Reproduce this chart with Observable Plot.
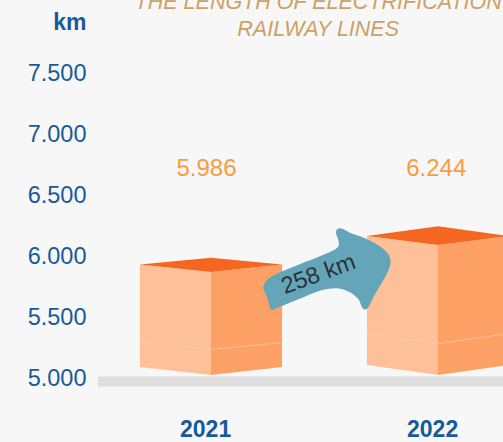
<!DOCTYPE html>
<html><head><meta charset="utf-8">
<style>html,body{margin:0;padding:0;background:#f7f7f7;overflow:hidden}svg{display:block}</style>
<script src="https://cdn.jsdelivr.net/npm/d3@7"></script>
<script src="https://cdn.jsdelivr.net/npm/@observablehq/plot@0.6"></script>
</head><body><div id="chart"></div>
<script>
const years = [2021, 2022];
const values = [5986, 6244];
const yearLabels = ["2021", "2022"];
const valueLabels = ["5.986", "6.244"];
const ticks = [5000, 5500, 6000, 6500, 7000, 7500];
const halfWidth = [0.313, 0.313];
const topSide = [5930, 6164];
const topFront = [5869, 6090];
const bottomSide = [5090, 5107];
const bottomFront = [5025, 5025];
const seamSide = [5295, 5369];
const seamFront = [5238, 5287];
const arrowYear = [2021.264,2021.247,2021.229,2021.242,2021.273,2021.392,2021.480,2021.559,2021.559,2021.548,2021.555,2021.573,2021.608,2021.678,2021.736,2021.780,2021.789,2021.775,2021.727,2021.681,2021.667,2021.648,2021.612,2021.559,2021.489,2021.392,2021.326,2021.273];
const arrowKm = [5561,5656,5746,5803,5844,5939,6004,6082,6131,6197,6225,6230,6197,6148,6090,6016,5951,5869,5713,5566,5574,5648,5705,5738,5725,5656,5607,5566];
const titleLines = ["THE LENGTH OF ELECTRIFICATION","RAILWAY LINES"];

const blue="#175a9c", sans="'Liberation Sans',Arial,sans-serif";
const left=[],right=[],lid=[],seam=[];
years.forEach((yr,i)=>{
  const a=yr-halfWidth[i], b=yr+halfWidth[i];
  left.push({k:i,x:a,y1:bottomSide[i],y2:topSide[i]},{k:i,x:yr,y1:bottomFront[i],y2:topFront[i]});
  right.push({k:i,x:yr,y1:bottomFront[i],y2:topFront[i]},{k:i,x:b,y1:bottomSide[i],y2:topSide[i]});
  lid.push({k:i,x:a,y1:topSide[i],y2:topSide[i]},{k:i,x:yr,y1:topFront[i],y2:values[i]},{k:i,x:b,y1:topSide[i],y2:topSide[i]});
  seam.push({k:i,x:a,y:seamSide[i]},{k:i,x:yr,y:seamFront[i]},{k:i,x:b,y:seamSide[i]});
});
const arrow=arrowYear.map((x,i)=>({x,y:arrowKm[i]}));
const area=(d,f)=>Plot.areaY(d,{x:"x",y1:"y1",y2:"y2",z:"k",fill:f,curve:"linear"});
const plot=Plot.plot({
  width:503,height:442,marginLeft:86,marginRight:0,marginTop:73,marginBottom:64,
  style:{background:"#f7f7f7",fontFamily:sans,overflow:"hidden"},
  x:{domain:[2020.4493,2022.2863],axis:null},
  y:{domain:[5000,7500]},
  marks:[
    Plot.rect([0],{x1:2020.502,x2:2022.2863,y1:4930,y2:5013,fill:"#dedede"}),
    area(left,"#fdc098"),
    area(right,"#fca066"),
    area(lid,"#f56620"),
    Plot.line(seam,{x:"x",y:"y",z:"k",stroke:"#fdcfb0",strokeWidth:0.7,strokeDasharray:"9 2"}),
    Plot.line(arrow,{x:"x",y:"y",fill:"#65a5b9",stroke:"none",curve:"catmull-rom-closed"}),
    Plot.axisY({ticks,tickFormat:d=>d3.format(",")(d).replace(",","."),tickSize:0,tickPadding:0,fontSize:23.5,dy:-0.5,color:blue,label:null}),
    Plot.text(["km"],{x:2020.4493,y:7918,textAnchor:"end",fontSize:23,fontWeight:"bold",fill:blue}),
    Plot.text(titleLines,{x:[2021.47,2021.47],y:[8082,7861],fontSize:21.5,fontStyle:"italic",fill:"#cda065"}),
    Plot.text(valueLabels,{x:[2020.978,2021.99],y:[6721,6721],fontSize:24,fill:"#fb9c3e"}),
    Plot.text(yearLabels,{x:[2020.974,2021.974],y:[4582,4582],fontSize:23,fontWeight:"bold",fill:blue}),
    Plot.text(["258 km"],{x:[2021.471],y:[5857],rotate:-20,fontSize:23.5,fill:"#2a3238"})
  ]
});
document.getElementById("chart").append(plot);
</script></body></html>
